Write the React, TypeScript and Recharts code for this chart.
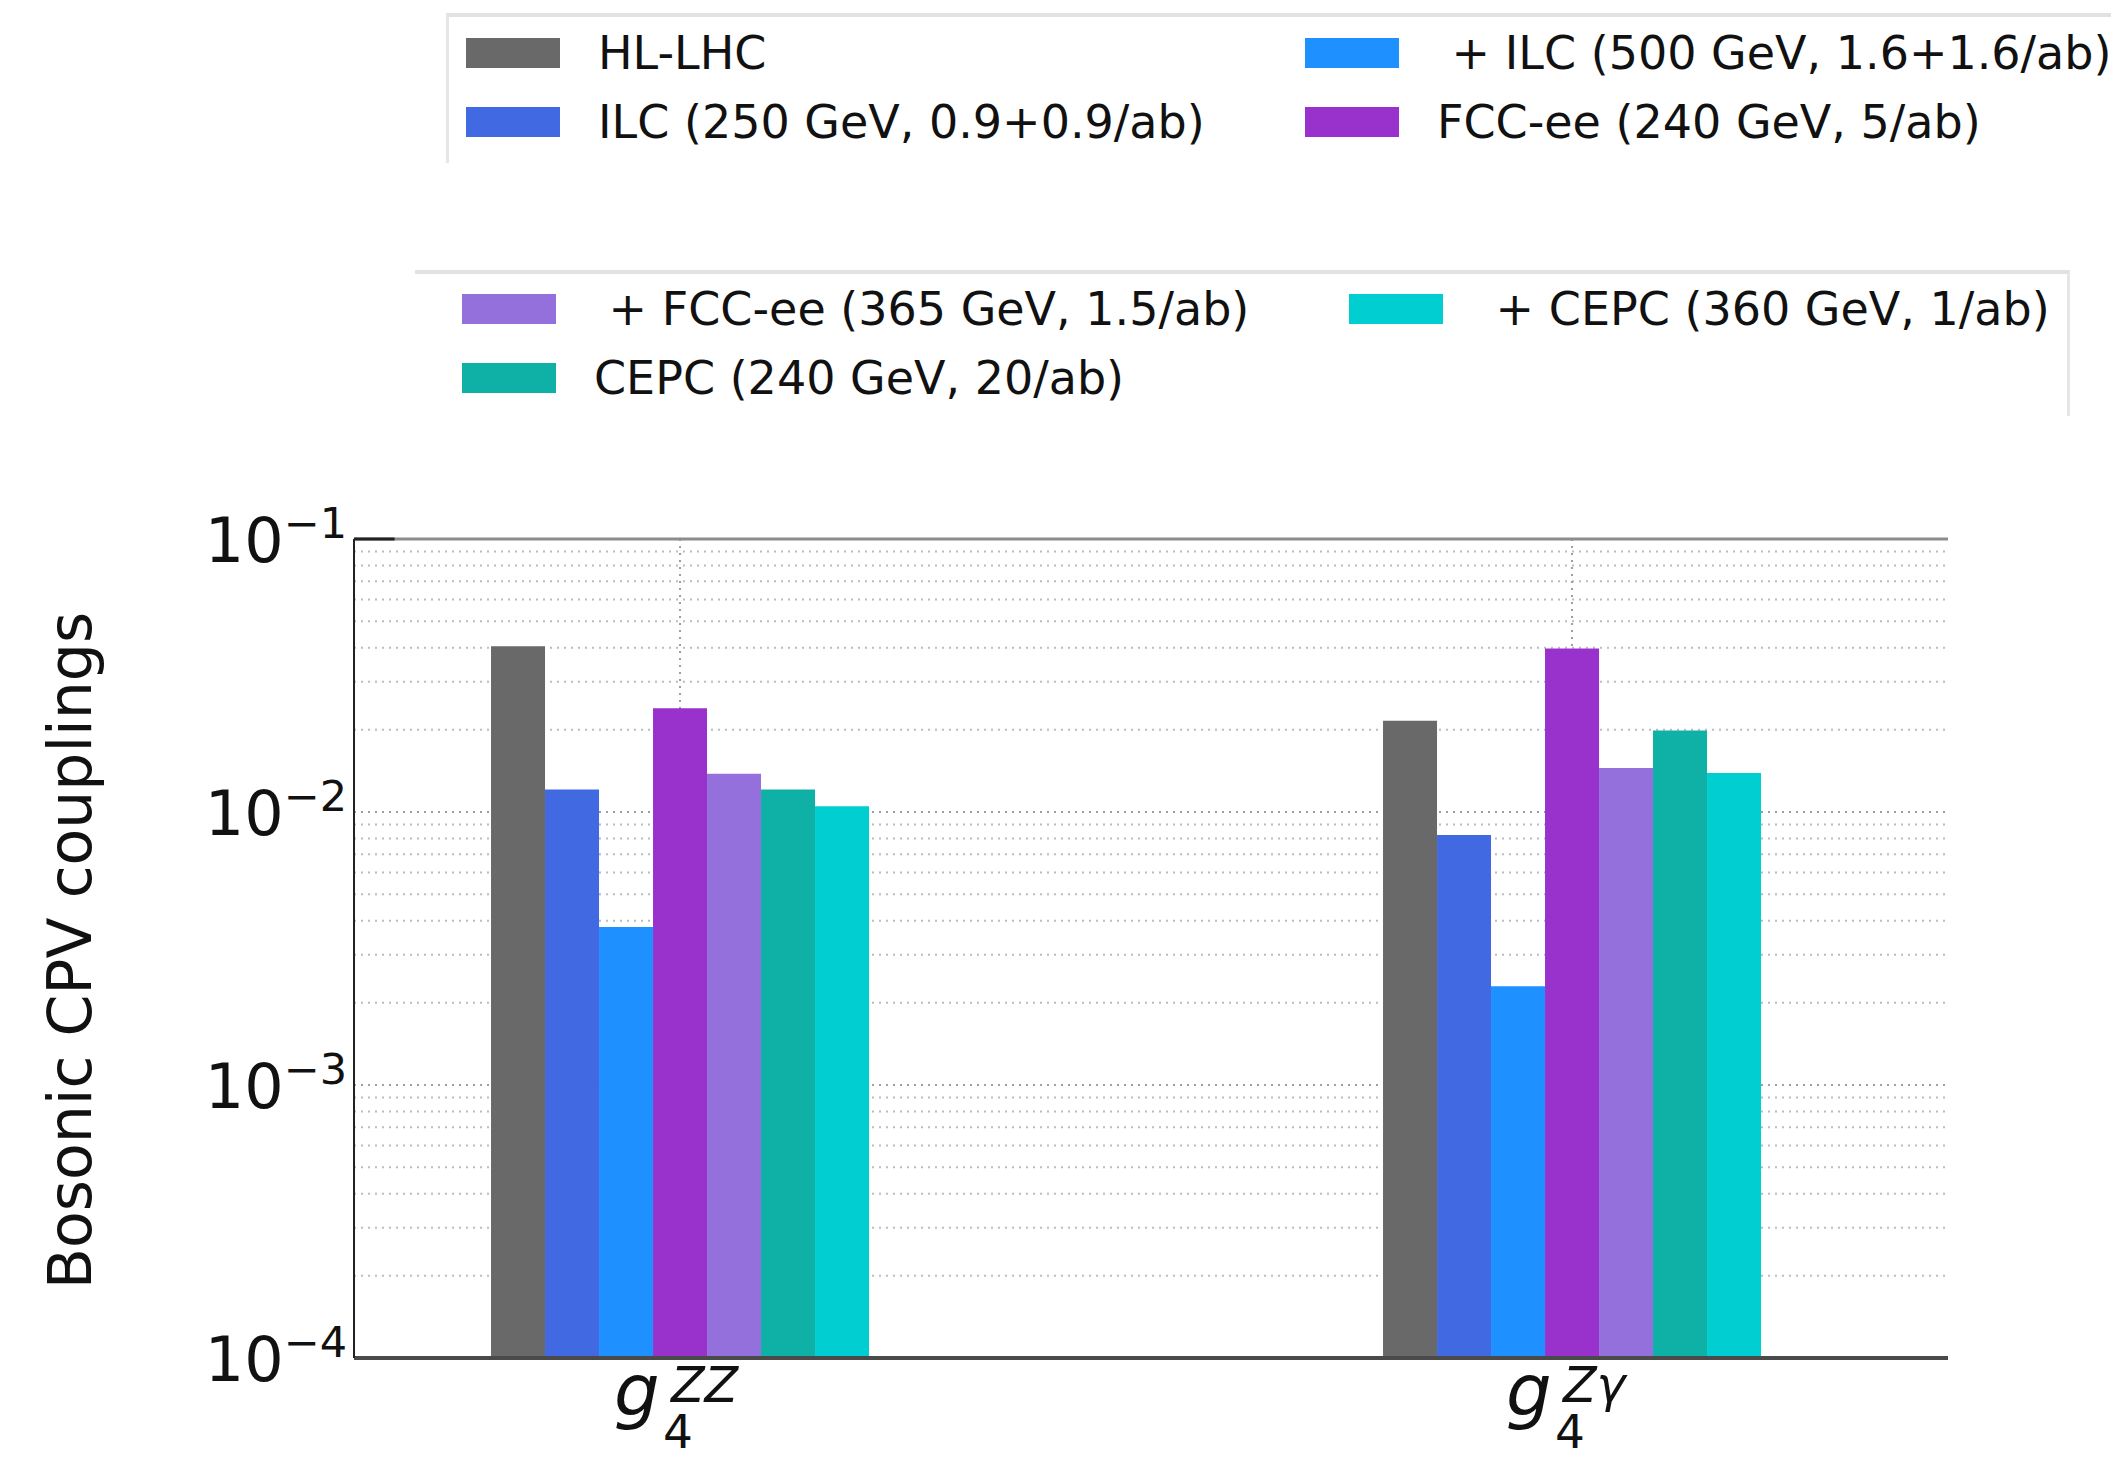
import { Bar, BarChart, CartesianGrid, Label, ReferenceLine, XAxis, YAxis } from 'recharts'

// coupling sensitivities per collider scenario, one entry per operator
const categories = ['ZZ', 'Zγ']
const positions = [0, 1]
const hlLhc = [0.0405, 0.0216]
const ilc250 = [0.0121, 0.00824]
const ilc500 = [0.00379, 0.0023]
const fcc240 = [0.024, 0.0397]
const fcc365 = [0.0138, 0.0145]
const cepc240 = [0.0121, 0.0199]
const cepc360 = [0.0105, 0.0139]

const yTicks = [1e-4, 1e-3, 1e-2, 1e-1]
const minorSteps = [2, 3, 4, 5, 6, 7, 8, 9]

const series = [
  { key: 'hlLhc', name: 'HL-LHC', color: '#696969', values: hlLhc },
  { key: 'ilc250', name: 'ILC (250 GeV, 0.9+0.9/ab)', color: '#4169e1', values: ilc250 },
  { key: 'ilc500', name: ' + ILC (500 GeV, 1.6+1.6/ab)', color: '#1e90ff', values: ilc500 },
  { key: 'fcc240', name: 'FCC-ee (240 GeV, 5/ab)', color: '#9932cc', values: fcc240 },
  { key: 'fcc365', name: ' + FCC-ee (365 GeV, 1.5/ab)', color: '#9370db', values: fcc365 },
  { key: 'cepc240', name: 'CEPC (240 GeV, 20/ab)', color: '#0fb0a6', values: cepc240 },
  { key: 'cepc360', name: ' + CEPC (360 GeV, 1/ab)', color: '#00ced1', values: cepc360 },
]

// two legend frames, filled column by column (2 rows each)
const legendBoxes = [
  { keys: ['hlLhc', 'ilc250', 'ilc500', 'fcc240'], cols: [466, 1305], rows: [53, 122] },
  { keys: ['fcc365', 'cepc240', 'cepc360'], cols: [462, 1349], rows: [309, 378] },
]

const data = positions.map((pos, i) => {
  const row: Record<string, number | string> = { pos, name: categories[i] }
  series.forEach((s) => {
    row[s.key] = s.values[i]
  })
  return row
})

const minorValues = yTicks.slice(0, -1).flatMap((d) => minorSteps.map((m) => m * d))

const FONT = '"DejaVu Sans", sans-serif'
const X_DOMAIN: [number, number] = [-0.3655, 1.4215]

function YTick({ x, y, payload }: any) {
  const exp = Math.round(Math.log10(payload.value))
  return (
    <text x={x - 7} y={y + 23} textAnchor="end" fontFamily={FONT} fontSize={62} fill="#111">
      <tspan>10</tspan>
      <tspan dy={-24} fontSize={43}>{`−${Math.abs(exp)}`}</tspan>
    </text>
  )
}

// g_4 with the operator as superscript, one text run
function XTick({ x, y, payload }: any) {
  const sup = categories[positions.indexOf(payload.value)]
  return (
    <text x={x - 66} y={y + 57} fontFamily={FONT} fill="#111">
      <tspan fontSize={72} fontStyle="italic">g</tspan>
      <tspan x={x - 9} dy={-13} fontSize={49} fontStyle="italic">{sup}</tspan>
      <tspan x={x - 17} dy={46} fontSize={47}>4</tspan>
    </text>
  )
}

function YLabel({ viewBox }: any) {
  const vb = viewBox || { x: 0, y: 539, width: 354, height: 819 }
  const cx = vb.x + 70
  const cy = vb.y + vb.height / 2 + 2
  return (
    <text
      x={cx}
      y={cy}
      transform={`rotate(-90, ${cx}, ${cy})`}
      textAnchor="middle"
      dominantBaseline="central"
      fontFamily={FONT}
      fontSize={60}
      fill="#111"
    >
      Bosonic CPV couplings
    </text>
  )
}

function LegendFrames() {
  return (
    <>
      <div
        style={{
          position: 'absolute',
          left: 446,
          top: 13,
          width: 1800,
          height: 146,
          borderTop: '4px solid #e2e2e2',
          borderLeft: '3px solid #e6e6e6',
        }}
      />
      <div
        style={{
          position: 'absolute',
          left: 415,
          top: 270,
          width: 1652,
          height: 142,
          borderTop: '4px solid #e2e2e2',
          borderRight: '3px solid #e6e6e6',
        }}
      />
      {legendBoxes.map((box, b) =>
        box.keys.map((key, i) => {
          const s = series.find((item) => item.key === key)!
          const col = Math.floor(i / box.rows.length)
          const row = i % box.rows.length
          return (
            <div
              key={`${b}-${key}`}
              style={{
                position: 'absolute',
                left: box.cols[col],
                top: box.rows[row] - 30,
                height: 60,
                display: 'flex',
                alignItems: 'center',
                whiteSpace: 'pre',
                fontFamily: FONT,
                fontSize: 46,
                color: '#111',
              }}
            >
              <span style={{ display: 'inline-block', width: 94, height: 30, background: s.color }} />
              <span style={{ marginLeft: 38 }}>{s.name}</span>
            </div>
          )
        }),
      )}
    </>
  )
}

export default function App() {
  return (
    <div
      style={{
        position: 'absolute',
        left: 0,
        top: 0,
        width: 2111,
        height: 1461,
        overflow: 'hidden',
        background: '#fff',
      }}
    >
      <LegendFrames />
      <BarChart
        width={2111}
        height={1461}
        data={data}
        margin={{ top: 539, right: 163, bottom: 0, left: 0 }}
        barGap={0}
        style={{ position: 'absolute', left: 0, top: 0 }}
      >
        <CartesianGrid
          horizontalValues={minorValues}
          vertical={false}
          stroke="#bcbcbc"
          strokeWidth={2}
          strokeDasharray="2 5"
        />
        <CartesianGrid
          horizontalValues={yTicks}
          verticalValues={positions}
          stroke="#9e9e9e"
          strokeWidth={2}
          strokeDasharray="2 5"
        />
        <XAxis
          dataKey="pos"
          type="number"
          domain={X_DOMAIN}
          ticks={positions}
          allowDataOverflow
          height={103}
          tickSize={0}
          tickMargin={0}
          tickLine={false}
          axisLine={{ stroke: '#4a4a4a', strokeWidth: 4 }}
          tick={<XTick />}
          interval={0}
        />
        <YAxis
          scale="log"
          domain={[1e-4, 1e-1]}
          ticks={yTicks}
          allowDataOverflow
          width={354}
          tickSize={0}
          tickMargin={0}
          tickLine={false}
          axisLine={{ stroke: '#222', strokeWidth: 2 }}
          tick={<YTick />}
          interval={0}
        >
          <Label content={<YLabel />} />
        </YAxis>
        {series.map((s) => (
          <Bar key={s.key} dataKey={s.key} name={s.name} fill={s.color} barSize={54} isAnimationActive={false} />
        ))}
        <ReferenceLine y={1e-1} stroke="#8c8c8c" strokeWidth={3} />
        <ReferenceLine
          segment={[
            { x: X_DOMAIN[0], y: 1e-1 },
            { x: -0.32, y: 1e-1 },
          ]}
          stroke="#222"
          strokeWidth={3}
        />
      </BarChart>
    </div>
  )
}
